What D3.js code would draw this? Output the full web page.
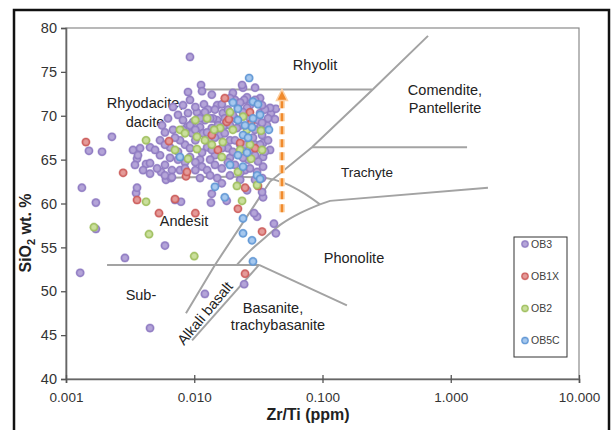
<!DOCTYPE html>
<html>
<head>
<meta charset="utf-8">
<script src="https://cdn.jsdelivr.net/npm/d3@7"></script>
<style>
  body { margin: 0; background: #fff; }
  text { font-family: "Liberation Sans", Arial, sans-serif; }
</style>
</head>
<body>
<div id="chart"></div>
<script>
// series names, in legend order
var seriesNames = ['OB3', 'OB1X', 'OB2', 'OB5C'];

// [Zr/Ti, SiO2]
var ob3 = [
  [0.00129,52.1],[0.00133,61.8],[0.00151,66.0],[0.00191,65.9],[0.00228,67.6],[0.00171,57.1],[0.00171,60.1],
  [0.00288,53.8],[0.00591,55.2],[0.00452,45.8],[0.0121,49.7],[0.0245,50.8],[0.0309,58.5],[0.0433,56.6],
  [0.0418,57.7],[0.0344,60.7],[0.0258,61.5],[0.00788,60.2],[0.0135,60.1],[0.0137,61.1],[0.0179,60.3],
  [0.00352,61.2],[0.0293,58.9],
  [0.00926,76.7],[0.0113,73.5],[0.0115,72.8],[0.00894,72.7],[0.0240,73.2],[0.0258,72.1],[0.0151,71.2],
  [0.0119,71.3],[0.0397,70.3],[0.0433,70.8],[0.0426,69.6],
  [0.00333,66.1],[0.00358,65.1],[0.00345,64.4],[0.00421,64.5],[0.00452,63.4],[0.00551,63.6],[0.00602,62.7],
  [0.00658,62.9],
  [0.0236,73.5],[0.0245,71.8],[0.0326,72.0],[0.00817,71.2],[0.00683,71.0],[0.0105,70.4],[0.00894,70.3],
  [0.0128,70.7],[0.0326,70.3],[0.0390,70.9],[0.0167,70.3],[0.0219,70.9],[0.00747,70.1],[0.00624,69.7],
  [0.00561,68.9],[0.0151,69.5],[0.00980,69.3],[0.0111,68.7],[0.00878,68.7],[0.00683,68.4],[0.00591,68.1],
  [0.00541,67.2],[0.00452,66.4],[0.00378,66.3],[0.00364,65.5],[0.0117,68.0],[0.0326,68.7],[0.0369,68.9],
  [0.0133,67.2],[0.0190,67.2],[0.0126,66.4],[0.00647,66.4],[0.00926,65.3],[0.0111,65.0],[0.0287,66.1],
  [0.0344,65.3],[0.0190,65.2],[0.00452,64.6],[0.00513,64.0],[0.00399,63.8],[0.00670,63.8],[0.00774,63.8],
  [0.00591,63.2],[0.00670,63.0],[0.0115,64.2],[0.0126,63.8],[0.0309,63.6],[0.0151,62.9],[0.0164,62.3],
  [0.0338,61.3],[0.0344,64.2],[0.0344,66.9],[0.00358,61.8],[0.00708,60.4],
  [0.0140,69.7],[0.0173,68.9],[0.0208,69.7],[0.0228,68.9],[0.0249,67.8],[0.0272,67.2],[0.0298,68.4],
  [0.0298,66.7],[0.0159,67.8],[0.0183,66.3],[0.0228,66.7],[0.0263,65.0],[0.0314,64.8],[0.0145,65.5],
  [0.0102,67.2],[0.00847,66.7],[0.00774,67.2],[0.00962,68.0],[0.0137,68.6],[0.0183,70.7],[0.0272,71.2],
  [0.0208,71.8],[0.0356,70.7],[0.0314,69.5],[0.0376,67.2],[0.0390,66.1],[0.0338,62.9],[0.0208,64.4],
  [0.0249,63.8],[0.0164,64.0],[0.0133,65.0],[0.00847,64.7],[0.0102,63.8],[0.00747,65.0],[0.00541,65.5],
  [0.00495,66.1],[0.00591,66.7],[0.00708,67.5],[0.00817,69.5],[0.0121,69.5],[0.0200,72.6],[0.0298,73.2],
  [0.0137,72.4],[0.0338,67.8],[0.0190,63.2],[0.0228,62.7],
  [0.00926,71.8],[0.0102,71.0],[0.0121,70.4],[0.0145,70.7],[0.0164,71.3],[0.0190,72.0],[0.0228,71.5],
  [0.0258,70.9],[0.0298,71.8],[0.0338,71.2],[0.0376,69.7],[0.0338,69.2],[0.0272,69.7],[0.0240,70.4],
  [0.0200,70.1],[0.0173,69.7],[0.0153,68.9],[0.0133,69.7],[0.0111,69.7],[0.00926,68.9],[0.00817,68.4],
  [0.0102,68.4],[0.0126,68.1],[0.0145,67.5],[0.0173,68.0],[0.0208,67.2],[0.0249,66.7],[0.0287,67.5],
  [0.0326,66.7],[0.0356,65.9],[0.0298,65.5],[0.0240,65.2],[0.0200,65.9],[0.0164,66.3],[0.0137,66.1],
  [0.0115,65.8],[0.00926,66.3],[0.00747,65.9],[0.00647,65.2],[0.00591,64.4],[0.00847,64.0],[0.0102,64.7],
  [0.0145,64.4],[0.0183,64.7],[0.0272,64.0],[0.0228,63.5],[0.0298,62.7],[0.0133,63.2],[0.0111,62.9],
  [0.0272,68.9],[0.0215,68.6],[0.0190,68.9]
];
var ob1x = [
  [0.00143,67.0],[0.00279,63.5],[0.00358,60.4],[0.00708,60.5],[0.00531,58.9],[0.0102,58.9],[0.00862,63.1],
  [0.00635,67.1],[0.0173,72.0],[0.0272,70.4],[0.0179,69.3],[0.0153,66.1],[0.00878,63.6],[0.0249,61.8],
  [0.0219,59.4],[0.0338,56.8],[0.0249,52.0],[0.0186,69.6],[0.0277,69.1],[0.0228,66.9],[0.0314,62.0],
  [0.0137,67.8],[0.0298,66.3]
];
var ob2 = [
  [0.00165,57.3],[0.00444,56.5],[0.0100,54.0],[0.00421,67.2],[0.00421,60.2],[0.0236,60.3],[0.00774,68.4],
  [0.00847,68.0],[0.0105,67.6],[0.0159,68.6],[0.0200,68.4],[0.0258,68.4],[0.0167,67.0],[0.0105,66.2],
  [0.00708,66.1],[0.0164,65.3],[0.0219,63.6],[0.0215,62.0],[0.0309,62.1],[0.0190,70.4],[0.0240,69.9],
  [0.0126,69.7],[0.0143,68.4],[0.0332,68.3],[0.0277,65.1],[0.00894,65.1],
  [0.0121,67.2],[0.0228,66.1],[0.0137,66.7],[0.0272,66.7],[0.0102,69.5],[0.0338,66.1]
];
var ob5c = [
  [0.0268,74.3],[0.0200,71.5],[0.0287,71.6],[0.0287,69.7],[0.0219,69.5],[0.0282,68.7],[0.00774,65.3],
  [0.0219,65.5],[0.0258,65.8],[0.0240,64.2],[0.0309,63.2],[0.0145,61.9],[0.0173,60.7],[0.0240,58.3],
  [0.0240,56.6],[0.0282,55.8],[0.0287,53.4],[0.0382,68.4],[0.0219,70.8],[0.0240,67.8],[0.0326,62.8],
  [0.0314,71.3],[0.0249,68.9],[0.0190,64.4],[0.0326,70.1],[0.0263,67.5]
];

// axis ticks
var xTicks = [0.001, 0.01, 0.1, 1, 10];
var yTicks = [40, 45, 50, 55, 60, 65, 70, 75, 80];

// field boundaries, [Zr/Ti, SiO2]
var boundaryStraight = [
  [[0.0117, 73], [0.243, 73]],
  [[0.665, 79.1], [0.243, 72.9], [0.0828, 66.4], [0.039, 62.5], [0.0145, 53], [0.00862, 47.5]],
  [[0.0828, 66.4], [1.34, 66.4]],
  [[0.0955, 59.9], [0.1144, 60.3], [1.95, 61.8]],
  [[0.00209, 53], [0.032, 53]],
  [[0.032, 53], [0.155, 48.4]],
  [[0.032, 53], [0.00962, 44.4]]
];
var boundaryCurved = [
  [[0.00561, 62.9], [0.0362, 62.9], [0.0510, 62.3], [0.0730, 61.1], [0.0955, 59.9]],
  [[0.0955, 59.9], [0.0668, 58.9], [0.0483, 57.7], [0.0356, 56.1], [0.0272, 54.6], [0.0215, 53.0]]
];

// field names: text, Zr/Ti, SiO2, rotation
var fieldNames = [
  ['Rhyolit', 0.0874, 75.8, 0],
  ['Comendite,', 0.901, 72.9, 0],
  ['Pantellerite', 0.901, 70.9, 0],
  ['Rhyodacite,', 0.00413, 71.5, 0],
  ['dacite', 0.00413, 69.3, 0],
  ['Trachyte', 0.222, 63.6, 0],
  ['Andesit', 0.00832, 58.0, 0],
  ['Phonolite', 0.176, 53.8, 0],
  ['Sub-', 0.00384, 49.6, 0],
  ['Basanite,', 0.0411, 48.1, 0],
  ['trachybasanite', 0.0450, 46.2, 0],
  ['Alkali basalt', 0.0121, 47.5, -50]
];

// trend arrow
var arrowZr = 0.0483;
var arrowSi = [59.0, 73.0];

var width = 613;
var height = 430;

var svg = d3.select('#chart')
  .append('svg')
  .attr('width', width)
  .attr('height', height)
  .style('display', 'block');

var x = d3.scaleLog().domain([0.001, 10]).range([66, 579]);
var y = d3.scaleLinear().domain([40, 80]).range([379, 28]);

// outer black frame
svg.append('rect')
  .attr('x', 14).attr('y', 10)
  .attr('width', 595).attr('height', 440)
  .attr('fill', '#fff')
  .attr('stroke', '#111')
  .attr('stroke-width', 2.5);

// plot area border
svg.append('rect')
  .attr('x', x(0.001)).attr('y', y(80))
  .attr('width', x(10) - x(0.001)).attr('height', y(40) - y(80))
  .attr('fill', 'none')
  .attr('stroke', '#8a8a8a')
  .attr('stroke-width', 1.2);

var defs = svg.append('defs');
var colors = [
  ['#b4a4d8', '#8f7bc2'],
  ['#e49a98', '#cc5d5b'],
  ['#cadf9c', '#9fbf5e'],
  ['#a6c8ee', '#5f96d4']
];
colors.forEach(function (c, i) {
  var g = defs.append('radialGradient').attr('id', 'dot' + i);
  g.append('stop').attr('offset', '0%').attr('stop-color', c[0]);
  g.append('stop').attr('offset', '40%').attr('stop-color', c[0]);
  g.append('stop').attr('offset', '78%').attr('stop-color', c[1]);
  g.append('stop').attr('offset', '100%').attr('stop-color', c[1]).attr('stop-opacity', 0.55);
});

// field boundaries
var line = d3.line()
  .x(function (d) { return x(d[0]); })
  .y(function (d) { return y(d[1]); });
var smooth = d3.line()
  .x(function (d) { return x(d[0]); })
  .y(function (d) { return y(d[1]); })
  .curve(d3.curveCatmullRom.alpha(0.5));

svg.selectAll('.bound')
  .data(boundaryStraight)
  .enter()
  .append('path')
    .attr('class', 'bound')
    .attr('d', line)
    .attr('fill', 'none')
    .attr('stroke', '#a3a3a3')
    .attr('stroke-width', 2);

svg.selectAll('.bound-c')
  .data(boundaryCurved)
  .enter()
  .append('path')
    .attr('class', 'bound-c')
    .attr('d', smooth)
    .attr('fill', 'none')
    .attr('stroke', '#a3a3a3')
    .attr('stroke-width', 2);

// field names
svg.selectAll('.field')
  .data(fieldNames)
  .enter()
  .append('text')
    .attr('class', 'field')
    .attr('transform', function (d) {
      return 'translate(' + x(d[1]) + ',' + y(d[2]) + ') rotate(' + d[3] + ')';
    })
    .attr('text-anchor', 'middle')
    .attr('dy', '0.35em')
    .attr('font-size', function (d) { return d[0] === 'Trachyte' ? 13.5 : 14.5; })
    .attr('fill', '#222')
    .text(function (d) { return d[0]; });

// axes
var yAxis = d3.axisLeft(y).tickValues(yTicks).tickSize(5).tickPadding(4);
var gy = svg.append('g')
  .attr('transform', 'translate(' + x(0.001) + ',0)')
  .call(yAxis);
gy.selectAll('text').attr('font-size', 14.5).attr('fill', '#333');

var xAxis = d3.axisBottom(x).tickValues(xTicks).tickFormat(d3.format('.3f')).tickSize(4).tickPadding(9);
var gx = svg.append('g')
  .attr('transform', 'translate(0,' + y(40) + ')')
  .call(xAxis);
gx.selectAll('.tick line').attr('y1', -4);
gx.selectAll('text').attr('font-size', 13.5).attr('fill', '#333');

[gx, gy].forEach(function (g) {
  g.select('.domain').attr('stroke', '#666').attr('stroke-width', 1.6);
  g.selectAll('.tick line').attr('stroke', '#555').attr('stroke-width', 1.3);
  g.selectAll('text').attr('font-family', '"Liberation Sans", Arial, sans-serif');
});

// axis titles
svg.append('text')
  .attr('x', 308).attr('y', 420)
  .attr('text-anchor', 'middle')
  .attr('font-size', 16)
  .attr('font-weight', 'bold')
  .attr('fill', '#222')
  .text('Zr/Ti  (ppm)');

var yTitle = svg.append('text')
  .attr('transform', 'translate(31,233) rotate(-90)')
  .attr('text-anchor', 'middle')
  .attr('font-size', 16)
  .attr('font-weight', 'bold')
  .attr('fill', '#222');
yTitle.append('tspan').text('SiO');
yTitle.append('tspan').attr('font-size', 11).attr('dy', 4).text('2');
yTitle.append('tspan').attr('dy', -4).text(' wt. %');

// points
var allSeries = [ob3, ob1x, ob2, ob5c];
allSeries.forEach(function (pts, i) {
  svg.append('g')
    .selectAll('circle')
    .data(pts)
    .enter()
    .append('circle')
      .attr('cx', function (d) { return x(d[0]); })
      .attr('cy', function (d) { return y(d[1]); })
      .attr('r', 4.6)
      .attr('fill', 'url(#dot' + i + ')');
});

// trend arrow
var ax = x(arrowZr);
var tipY = y(arrowSi[1]);
var baseY = tipY + 11;
[['#fcd9b4', 6], ['#f08a2c', 2.6]].forEach(function (s) {
  svg.append('line')
    .attr('x1', ax).attr('x2', ax)
    .attr('y1', y(arrowSi[0])).attr('y2', baseY)
    .attr('stroke', s[0])
    .attr('stroke-width', s[1])
    .attr('stroke-dasharray', '8,5');
});
svg.append('path')
  .attr('d', 'M' + ax + ',' + tipY + 'L' + (ax + 5.5) + ',' + baseY + 'L' + (ax - 5.5) + ',' + baseY + 'Z')
  .attr('fill', '#f08a2c')
  .attr('stroke', '#fcd0a4')
  .attr('stroke-width', 1.5);

// legend
var legend = svg.append('g');
legend.append('rect')
  .attr('x', 514).attr('y', 237)
  .attr('width', 53).attr('height', 120)
  .attr('fill', '#fff')
  .attr('stroke', '#333')
  .attr('stroke-width', 1);
seriesNames.forEach(function (name, i) {
  var ly = 244 + i * 32.2;
  legend.append('circle')
    .attr('cx', 525).attr('cy', ly)
    .attr('r', 4)
    .attr('fill', 'url(#dot' + i + ')');
  legend.append('text')
    .attr('x', 531).attr('y', ly)
    .attr('dy', '0.35em')
    .attr('font-size', 10.5)
    .attr('fill', '#404040')
    .text(name);
});
</script>
</body>
</html>
